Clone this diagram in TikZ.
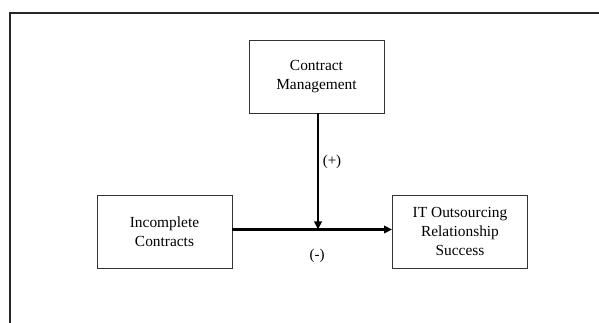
\documentclass[tikz,border=0pt]{standalone}
\usepackage{fontspec}
\setmainfont{Liberation Serif}
\usetikzlibrary{arrows.meta}
\begin{document}
\begin{tikzpicture}[x=1pt,y=1pt,
  varbox/.style={draw=black!80, line width=0.9pt, minimum width=135pt, minimum height=73pt,
    align=center, font=\fontsize{15.4}{19}\selectfont, inner sep=0pt},
  link/.style={line width=2.2pt, -{Triangle[length=8pt,width=7.5pt]}},
  sign/.style={font=\fontsize{15}{18}\selectfont, inner sep=0pt}]
\useasboundingbox (0,0) rectangle (599,323);
% outer frame, cut off at right and bottom
\draw[line width=1.4pt, black!85] (10,-5) -- (10,310) -- (610,310);
% variables
\node[varbox] (cm) at (316.5,246.5) {Contract\\Management};
\node[varbox] (ic) at (164.5,91.5) {Incomplete\\Contracts};
\node[varbox] (it) at (460,91.5) {IT Outsourcing\\Relationship\\Success};
% main effect and moderation
\coordinate (mid) at (318,93.5);
\draw[link] (ic.east |- mid) -- (it.west |- mid);
\draw[link] (cm.south -| mid) -- (mid);
\node[sign] (plus) at (332,161) {(+)};
\node[sign] (minus) at (317,67) {(-)};
\end{tikzpicture}
\end{document}
